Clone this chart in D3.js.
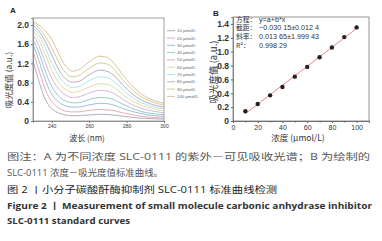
<!DOCTYPE html>
<html>
<head>
<meta charset="utf-8">
<script src="https://cdn.jsdelivr.net/npm/d3@7"></script>
<style>
  body { margin: 0; background: #fff; }
  svg { display: block; }
  .tick text { font-family: "Liberation Sans", Arial, sans-serif; fill: #333; }
  .cn { font-family: "Noto Sans CJK SC", sans-serif; }
</style>
</head>
<body>
<div id="container"></div>
<script>
// espectros UV-vis (panel A)
const wavelengths = [230, 233, 236, 239, 242, 245, 248, 251, 254, 258, 262, 266, 270, 274, 278, 282, 286, 290, 295, 300];
const concLabels = ["10 μmol/L", "20 μmol/L", "30 μmol/L", "40 μmol/L", "50 μmol/L",
                    "60 μmol/L", "70 μmol/L", "80 μmol/L", "90 μmol/L", "100 μmol/L"];
const concColors = ["#a9a2b6", "#e2a3ab", "#93b6d6", "#8cc2c9", "#d3abd2",
                    "#dcd993", "#a9e0e8", "#b3a3ba", "#c9c88c", "#d9b98b"];
const abs10  = [1.25, 0.85, 0.50, 0.30, 0.20, 0.15, 0.12, 0.11, 0.11, 0.12, 0.13, 0.14, 0.135, 0.12, 0.10, 0.08, 0.065, 0.055, 0.045, 0.04];
const abs20  = [1.45, 1.08, 0.72, 0.46, 0.32, 0.24, 0.20, 0.19, 0.19, 0.21, 0.23, 0.24, 0.23, 0.21, 0.17, 0.14, 0.11, 0.09, 0.07, 0.06];
const abs30  = [1.60, 1.28, 0.92, 0.63, 0.46, 0.36, 0.31, 0.29, 0.29, 0.32, 0.35, 0.37, 0.36, 0.32, 0.26, 0.21, 0.17, 0.14, 0.11, 0.10];
const abs40  = [1.70, 1.44, 1.10, 0.80, 0.60, 0.47, 0.41, 0.38, 0.38, 0.42, 0.47, 0.49, 0.48, 0.43, 0.35, 0.28, 0.22, 0.18, 0.15, 0.13];
const abs50  = [1.80, 1.58, 1.28, 0.98, 0.76, 0.61, 0.53, 0.49, 0.50, 0.55, 0.61, 0.64, 0.62, 0.56, 0.45, 0.36, 0.29, 0.24, 0.20, 0.17];
const abs60  = [1.88, 1.70, 1.44, 1.15, 0.91, 0.74, 0.64, 0.60, 0.61, 0.67, 0.74, 0.78, 0.76, 0.68, 0.55, 0.44, 0.36, 0.30, 0.25, 0.21];
const abs70  = [1.95, 1.80, 1.58, 1.30, 1.06, 0.87, 0.75, 0.70, 0.71, 0.79, 0.88, 0.92, 0.90, 0.80, 0.65, 0.52, 0.42, 0.35, 0.29, 0.25];
const abs80  = [2.00, 1.88, 1.70, 1.46, 1.21, 0.99, 0.86, 0.81, 0.82, 0.91, 1.01, 1.06, 1.03, 0.92, 0.75, 0.60, 0.48, 0.40, 0.33, 0.29];
const abs90  = [2.05, 1.95, 1.80, 1.60, 1.37, 1.14, 0.98, 0.92, 0.94, 1.04, 1.15, 1.21, 1.18, 1.05, 0.86, 0.69, 0.55, 0.46, 0.38, 0.33];
const abs100 = [2.08, 2.00, 1.90, 1.76, 1.55, 1.30, 1.12, 1.04, 1.06, 1.17, 1.29, 1.35, 1.32, 1.17, 0.96, 0.77, 0.62, 0.51, 0.42, 0.37];
const spectra = [abs10, abs20, abs30, abs40, abs50, abs60, abs70, abs80, abs90, abs100];

// curva estándar (panel B)
const concentrations = [10, 20, 30, 40, 50, 60, 70, 80, 90, 100];
const peakAbs = [0.14, 0.245, 0.37, 0.49, 0.64, 0.78, 0.92, 1.06, 1.21, 1.35];
const fitA = -0.03015, fitB = 0.01365;

const fitLines = [
    ["方程：", "y=a+b*x"],
    ["截距：", "−0.030 15±0.012 4"],
    ["斜率：", "0.013 65±1.999 43"],
    ["R²：", "0.998 29"]
];

const captionLines = [
    "图注：A 为不同浓度 SLC-0111 的紫外－可见吸收光谱；B 为绘制的",
    "SLC-0111 浓度－吸光度值标准曲线。",
    "图 2 丨小分子碳酸酐酶抑制剂 SLC-0111 标准曲线检测",
    "Figure 2 丨 Measurement of small molecule carbonic anhydrase inhibitor",
    "SLC-0111 standard curves"
];

const W = 382, H = 241;
const svg = d3.select("#container").append("svg")
    .attr("width", W).attr("height", H);
svg.append("rect").attr("width", W).attr("height", H).attr("fill", "#fff");

const fmt = d => d === 0 ? "0" : d3.format(".1f")(d);

// ---------- Panel A ----------
const xA = d3.scaleLinear().domain([230, 300]).range([33, 164]);
const yA = d3.scaleLinear().domain([0, 2.146]).range([121, 18]);

const gA = svg.append("g");
gA.append("rect")
    .attr("x", 33).attr("y", 18).attr("width", 131).attr("height", 103)
    .attr("fill", "none").attr("stroke", "#777").attr("stroke-width", 0.7);

const lineA = d3.line()
    .x((d, i) => xA(wavelengths[i]))
    .y(d => yA(d))
    .curve(d3.curveMonotoneX);

gA.selectAll(".spec")
    .data(spectra)
    .join("path")
    .attr("class", "spec")
    .attr("d", lineA)
    .attr("fill", "none")
    .attr("stroke", (d, i) => concColors[i])
    .attr("stroke-width", 0.9);

const axA_y = gA.append("g").attr("transform", "translate(33,0)")
    .call(d3.axisLeft(yA).tickValues([0, 0.4, 0.8, 1.2, 1.6, 2.0]).tickFormat(fmt).tickSize(2).tickPadding(2));
axA_y.selectAll("text").attr("font-size", 8.5).attr("font-weight", "bold");
const axA_x = gA.append("g").attr("transform", "translate(0,121)")
    .call(d3.axisBottom(xA).tickValues([240, 260, 280, 300]).tickSize(2).tickPadding(1.5));
axA_x.selectAll("text").attr("font-size", 5);
gA.selectAll(".domain").attr("stroke", "#777").attr("stroke-width", 0.7);
gA.selectAll(".tick line").attr("stroke", "#777");

gA.append("text").attr("x", 10).attr("y", 13)
    .attr("font-family", "Liberation Sans, Arial, sans-serif")
    .attr("font-weight", "bold").attr("font-size", 8).attr("fill", "#222").text("A");

gA.append("text").attr("class", "cn")
    .attr("transform", "translate(12,80) rotate(-90)")
    .attr("text-anchor", "middle").attr("font-size", 8.5).attr("fill", "#333")
    .text("吸光度值 (a.u.)");

gA.append("text").attr("class", "cn")
    .attr("x", 87).attr("y", 140.5)
    .attr("text-anchor", "middle").attr("font-size", 8).attr("fill", "#333")
    .text("波长 (nm)");

// leyenda
const legend = gA.append("g");
concLabels.forEach((lab, i) => {
    const y = 30.7 + i * 7.3;
    legend.append("line").attr("x1", 167).attr("x2", 175).attr("y1", y).attr("y2", y)
        .attr("stroke", concColors[i]).attr("stroke-width", 0.9);
    legend.append("text").attr("x", 177).attr("y", y + 1.5)
        .attr("font-family", "Liberation Sans, Arial, sans-serif")
        .attr("font-size", 4.3).attr("fill", "#666").text(lab);
});

// ---------- Panel B ----------
const xB = d3.scaleLinear().domain([0, 110]).range([233, 369]);
const yB = d3.scaleLinear().domain([0, 1.5]).range([121, 17]);

const gB = svg.append("g");
gB.append("rect")
    .attr("x", 233).attr("y", 17).attr("width", 136).attr("height", 104)
    .attr("fill", "none").attr("stroke", "#666").attr("stroke-width", 0.7);

const axB_y = gB.append("g").attr("transform", "translate(233,0)")
    .call(d3.axisLeft(yB).tickValues([0, 0.2, 0.4, 0.6, 0.8, 1.0, 1.2, 1.4]).tickFormat(fmt).tickSize(2).tickPadding(2));
axB_y.selectAll("text").attr("font-size", 8.5).attr("font-weight", "bold");
const axB_x = gB.append("g").attr("transform", "translate(0,121)")
    .call(d3.axisBottom(xB).tickValues([0, 20, 40, 60, 80, 100]).tickSize(2).tickPadding(2));
axB_x.selectAll("text").attr("font-size", 7);
gB.append("g").attr("transform", "translate(0,121)")
    .call(d3.axisBottom(xB).tickValues([10, 30, 50, 70, 90, 110]).tickSize(1.5).tickFormat(""));
gB.selectAll(".domain").attr("stroke", "#666").attr("stroke-width", 0.7);
gB.selectAll(".tick line").attr("stroke", "#666");

gB.append("line")
    .attr("x1", xB(10)).attr("y1", yB(fitA + fitB * 10))
    .attr("x2", xB(100)).attr("y2", yB(fitA + fitB * 100))
    .attr("stroke", "#e06a6a").attr("stroke-width", 0.8);

gB.selectAll(".pt")
    .data(concentrations)
    .join("circle")
    .attr("class", "pt")
    .attr("cx", d => xB(d))
    .attr("cy", (d, i) => yB(peakAbs[i]))
    .attr("r", 2.2)
    .attr("fill", "#222");

gB.append("text").attr("x", 213).attr("y", 16)
    .attr("font-family", "Liberation Sans, Arial, sans-serif")
    .attr("font-weight", "bold").attr("font-size", 8).attr("fill", "#222").text("B");

fitLines.forEach((row, i) => {
    const y = 21.5 + i * 8.8;
    gB.append("text").attr("class", "cn").attr("x", 236).attr("y", y)
        .attr("font-size", 6.8).attr("fill", "#333").text(row[0]);
    gB.append("text").attr("x", 259).attr("y", y)
        .attr("font-family", "Liberation Sans, Arial, sans-serif")
        .attr("font-size", 7.2).attr("fill", "#333").text(row[1]);
});

gB.append("text").attr("class", "cn")
    .attr("transform", "translate(217,72) rotate(-90)")
    .attr("text-anchor", "middle").attr("font-size", 9.5).attr("fill", "#333")
    .text("吸光度值 (a.u.)");

gB.append("text").attr("class", "cn")
    .attr("x", 298).attr("y", 140.5)
    .attr("text-anchor", "middle").attr("font-size", 8.5).attr("fill", "#333")
    .text("浓度 (μmol/L)");

// ---------- pie de figura ----------
const capStyle = [
    { y: 160, size: 8.6, weight: "normal", fill: "#555", len: 363 },
    { y: 176, size: 8.6, weight: "normal", fill: "#555", len: 156 },
    { y: 193, size: 8.8, weight: "normal", fill: "#222", len: 270 },
    { y: 209, size: 8.8, weight: "bold", fill: "#333", len: 365 },
    { y: 224, size: 8.8, weight: "bold", fill: "#333", len: 123 }
];
captionLines.forEach((t, i) => {
    const s = capStyle[i];
    svg.append("text")
        .attr("x", 7).attr("y", s.y)
        .attr("font-family", "Open Sans, Noto Sans CJK SC, sans-serif")
        .attr("font-size", s.size).attr("font-weight", s.weight).attr("fill", s.fill)
        .attr("textLength", s.len).attr("lengthAdjust", "spacingAndGlyphs")
        .text(t);
});
</script>
</body>
</html>
